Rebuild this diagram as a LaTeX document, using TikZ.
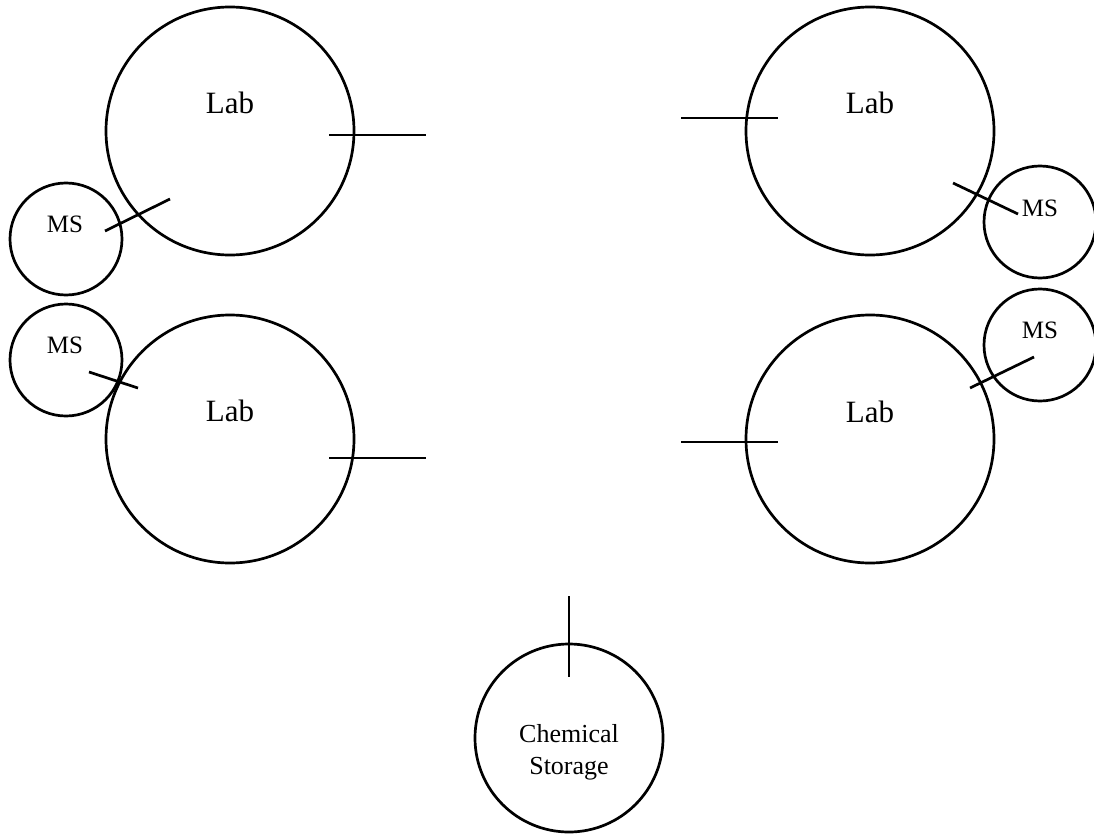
\documentclass[tikz,border=0pt]{standalone}
\usepackage{fontspec}
\setmainfont{Liberation Serif}
\begin{document}
\begin{tikzpicture}[x=1pt,y=-1pt,
  lab/.style={circle,draw,line width=2.7pt,inner sep=0pt,minimum size=248pt},
  ms/.style={circle,draw,line width=2.7pt,inner sep=0pt,minimum size=112pt},
  store/.style={circle,draw,line width=2.7pt,inner sep=0pt,minimum size=188pt},
  labtxt/.style={inner sep=0pt,font=\fontsize{31}{36}\selectfont},
  mstxt/.style={inner sep=0pt,font=\fontsize{25}{30}\selectfont},
  sttxt/.style={inner sep=0pt,align=center,font=\fontsize{26}{32}\selectfont},
  stub/.style={line width=2.7pt}]
\useasboundingbox (0,0) rectangle (1094,837);
% circles
\node[lab] (lab1) at (230,131) {};
\node[lab] (lab2) at (870,131) {};
\node[lab] (lab3) at (230,439) {};
\node[lab] (lab4) at (870,439) {};
\node[ms] (ms1) at (66,239) {};
\node[ms] (ms2) at (1040,222) {};
\node[ms] (ms3) at (66,360) {};
\node[ms] (ms4) at (1040,345) {};
\node[store] (cs) at (569,738) {};
% texts
\node[labtxt] (t1) at (230,103) {Lab};
\node[labtxt] (t2) at (870,103) {Lab};
\node[labtxt] (t3) at (230,411) {Lab};
\node[labtxt] (t4) at (870,412) {Lab};
\node[mstxt] (m1) at (65,224) {MS};
\node[mstxt] (m2) at (1040,208) {MS};
\node[mstxt] (m3) at (65,345) {MS};
\node[mstxt] (m4) at (1040,330) {MS};
\node[sttxt] (cst) at (569,752) {Chemical\\Storage};
% stub end points
\coordinate (a1) at (329,135); \coordinate (b1) at (426,135);
\coordinate (a2) at (681,118); \coordinate (b2) at (778,118);
\coordinate (a3) at (329,458); \coordinate (b3) at (426,458);
\coordinate (a4) at (681,442); \coordinate (b4) at (778,442);
\coordinate (c1) at (105,231); \coordinate (d1) at (170,199);
\coordinate (c2) at (953,183); \coordinate (d2) at (1018,214);
\coordinate (c3) at (89,372); \coordinate (d3) at (138,388);
\coordinate (c4) at (970,388); \coordinate (d4) at (1034,357);
\coordinate (e1) at (569,596); \coordinate (f1) at (569,677);
% stubs
\draw[stub] (a1) -- (b1);
\draw[stub] (a2) -- (b2);
\draw[stub] (a3) -- (b3);
\draw[stub] (a4) -- (b4);
\draw[stub] (c1) -- (d1);
\draw[stub] (c2) -- (d2);
\draw[stub] (c3) -- (d3);
\draw[stub] (c4) -- (d4);
\draw[stub] (e1) -- (f1);
\end{tikzpicture}
\end{document}
